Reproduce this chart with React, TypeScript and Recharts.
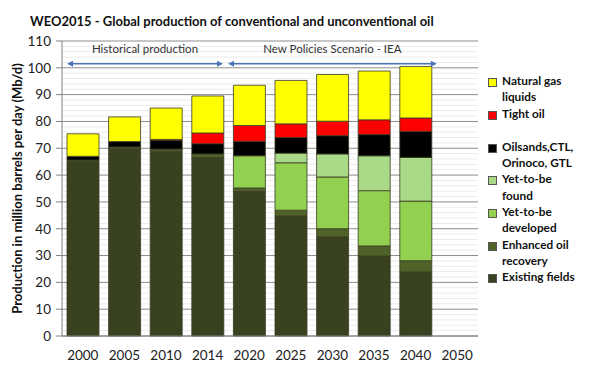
import React from "react";
import {
  BarChart,
  Bar,
  XAxis,
  YAxis,
  CartesianGrid,
  ReferenceLine,
} from "recharts";

const years = ["2000", "2005", "2010", "2014", "2020", "2025", "2030", "2035", "2040", "2050"];
const existingFields = [65.0, 69.8, 68.9, 66.6, 53.9, 44.8, 36.9, 29.8, 23.9, null];
const enhancedRecovery = [0.6, 0.7, 0.8, 1.3, 1.3, 2.1, 3.1, 3.8, 4.2, null];
const yetDeveloped = [null, null, null, null, 12.0, 17.7, 19.3, 20.6, 22.2, null];
const yetFound = [null, null, null, null, null, 3.6, 8.6, 13.0, 16.3, null];
const oilsands = [1.4, 2.0, 3.3, 3.8, 5.4, 5.8, 6.8, 7.9, 9.7, null];
const tightOil = [null, null, 0.3, 4.0, 5.9, 5.1, 5.4, 5.5, 5.0, null];
const ngl = [8.4, 9.2, 11.7, 13.8, 15.0, 16.2, 17.4, 18.2, 19.2, null];

const yTicks = [0, 10, 20, 30, 40, 50, 60, 70, 80, 90, 100, 110];
const minorTicks = [2, 4, 6, 8, 12, 14, 16, 18, 22, 24, 26, 28, 32, 34, 36, 38, 42, 44, 46, 48, 52, 54, 56, 58, 62, 64, 66, 68, 72, 74, 76, 78, 82, 84, 86, 88, 92, 94, 96, 98, 102, 104, 106, 108];

// period arrows: first/last category, how far past the centres (in bands), label
const periods = [
  { from: "2000", to: "2014", bands: 3, extL: 0.38, extR: 0.37, label: "Historical production" },
  { from: "2020", to: "2040", bands: 4, extL: 0.51, extR: 0.51, label: "New Policies Scenario - IEA" },
];
const arrowLevel = 101.5;

// bottom to top
const series = [
  { key: "existing", name: "Existing fields", color: "#384120", values: existingFields },
  { key: "eor", name: "Enhanced oil\nrecovery", color: "#4f6228", values: enhancedRecovery },
  { key: "developed", name: "Yet-to-be\ndeveloped", color: "#92d050", values: yetDeveloped },
  { key: "found", name: "Yet-to-be\nfound", color: "#a9da88", values: yetFound },
  { key: "oilsands", name: "Oilsands,CTL,\nOrinoco, GTL", color: "#000000", values: oilsands },
  { key: "tight", name: "Tight oil", color: "#ff0000", values: tightOil },
  { key: "ngl", name: "Natural gas\nliquids", color: "#ffff00", values: ngl },
];

const data = years.map((year, i) => {
  const row: Record<string, string | number | null> = { year };
  series.forEach(s => { row[s.key] = s.values[i]; });
  return row;
});

const FONT = "Lato, 'Open Sans', sans-serif";
const ARROW = "#4a74b8";

function makeArrow(p: typeof periods[number]) {
  return (props: any) => {
    const band = (props.x2 - props.x1) / p.bands;
    const a = props.x1 - p.extL * band;
    const b = props.x2 + p.extR * band;
    const y = props.y1;
    const h = 6;
    const w = 3;
    return (
      <g>
        <line x1={a + 2} y1={y} x2={b - 2} y2={y} stroke={ARROW} strokeWidth={1.5} />
        <polygon points={`${a},${y} ${a + h},${y - w} ${a + h},${y + w}`} fill={ARROW} />
        <polygon points={`${b},${y} ${b - h},${y - w} ${b - h},${y + w}`} fill={ARROW} />
        <text x={(a + b) / 2} y={y - 14} textAnchor="middle" dominantBaseline="middle" fontSize={11.5} fill="#333" fontFamily={FONT}>
          {p.label}
        </text>
      </g>
    );
  };
}

function LegendBox() {
  const items = [...series].reverse();
  return (
    <div style={{ position: "absolute", left: 488, top: 73, fontFamily: FONT, fontWeight: 700, fontSize: 11.8, lineHeight: "16.3px", color: "#111" }}>
      {items.map(s => (
        <div key={s.key} style={{ display: "flex", alignItems: "flex-start", marginBottom: s.key === "tight" ? 17 : 0 }}>
          <span style={{ display: "inline-block", width: 7, height: 7, marginTop: 5, marginRight: 5, background: s.color, border: "1px solid #555", flexShrink: 0 }} />
          <span style={{ whiteSpace: "pre-line" }}>{s.name}</span>
        </div>
      ))}
    </div>
  );
}

function YLabel(props: any) {
  const vb = props.viewBox;
  const x = vb.x + 19;
  const y = vb.y + vb.height / 2;
  return (
    <text x={x} y={y} transform={`rotate(-90 ${x} ${y})`} textAnchor="middle" dominantBaseline="middle" fontSize={13} fontWeight={700} fill="#111" fontFamily={FONT}>
      Production in million barrels per day (Mb/d)
    </text>
  );
}

export default function App() {
  return (
    <div style={{ position: "relative", width: 594, height: 368, background: "#fff", fontFamily: FONT }}>
      <style>{"body{margin:0}"}</style>
      <div style={{ position: "absolute", left: 30, top: 13, fontSize: 13, fontWeight: 700, color: "#111", whiteSpace: "nowrap" }}>
        WEO2015 - Global production of conventional and unconventional oil
      </div>
      <BarChart width={594} height={368} data={data} margin={{ top: 41, right: 116, bottom: 0, left: 0 }} barSize={32}>
        <CartesianGrid yAxisId="l" vertical={false} horizontalValues={minorTicks} stroke="#ebebeb" />
        <CartesianGrid yAxisId="l" vertical={false} stroke="#8c8c8c" />
        <XAxis dataKey="year" height={32} tickLine={false} tickMargin={8} axisLine={{ stroke: "#808080" }} tick={{ fontSize: 13.5, fill: "#222", fontFamily: FONT }} />
        <YAxis
          yAxisId="l"
          width={62}
          domain={[0, 110]}
          ticks={yTicks}
          interval={0}
          tickSize={6}
          tickMargin={5}
          axisLine={{ stroke: "#808080" }}
          tickLine={{ stroke: "#808080" }}
          tick={{ fontSize: 13.5, fill: "#222", fontFamily: FONT }}
          label={{ content: YLabel }}
        />
        <YAxis yAxisId="r" orientation="right" width={0} domain={[0, 110]} tick={false} tickLine={false} axisLine={{ stroke: "#808080" }} />
        {series.map(s => (
          <Bar key={s.key} yAxisId="l" dataKey={s.key} stackId="a" fill={s.color} stroke="#3a3a25" strokeWidth={0.8} isAnimationActive={false} />
        ))}
        {periods.map(p => (
          <ReferenceLine
            key={p.label}
            yAxisId="l"
            segment={[{ x: p.from, y: arrowLevel }, { x: p.to, y: arrowLevel }]}
            shape={makeArrow(p)}
          />
        ))}
      </BarChart>
      <LegendBox />
    </div>
  );
}
